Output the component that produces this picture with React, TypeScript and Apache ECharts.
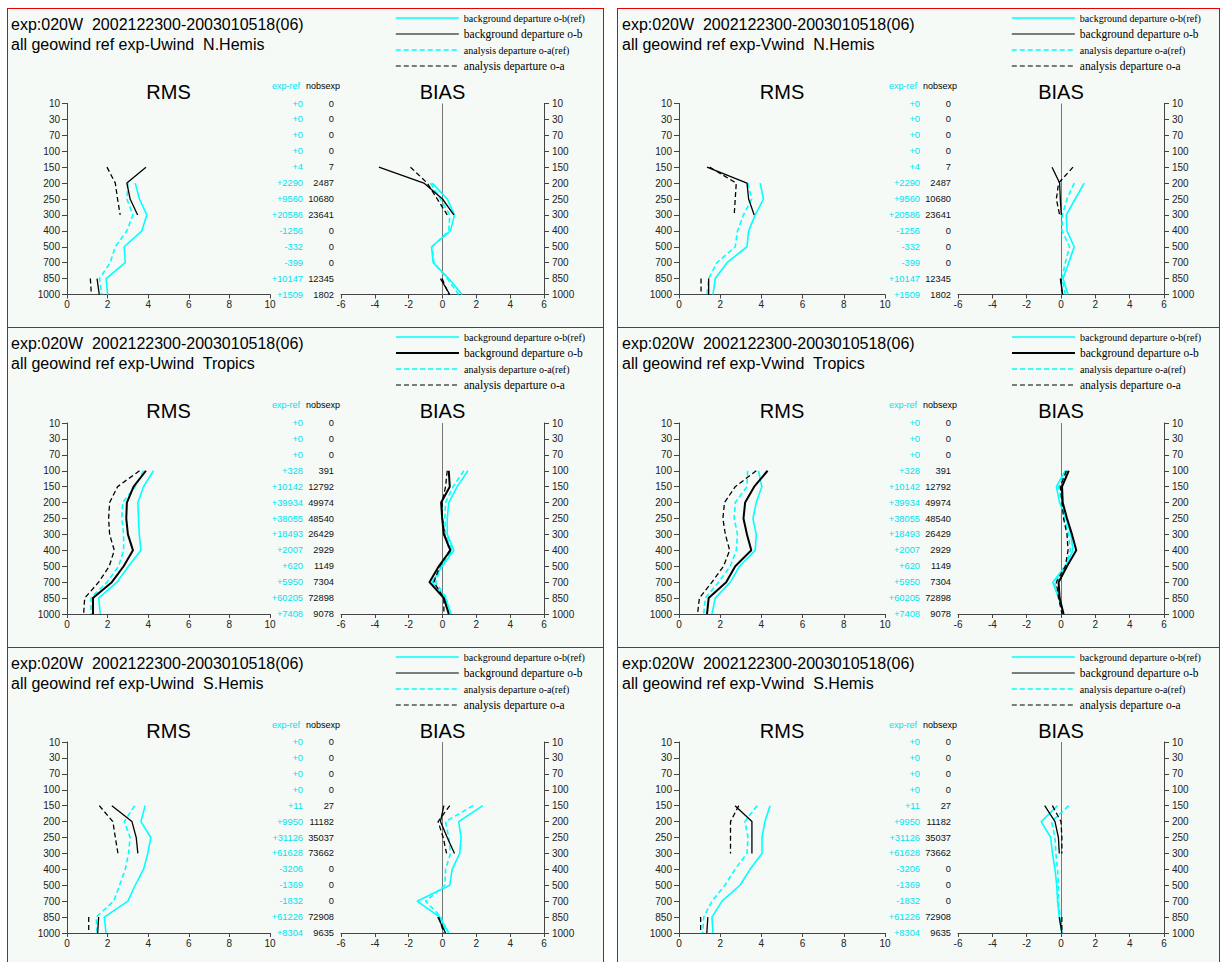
import React, { useEffect, useRef } from 'react';
import * as echarts from 'echarts';

const n = null;
const levels = ['10', '30', '70', '100', '150', '200', '250', '300', '400', '500', '700', '850', '1000'];
const seriesNames = [
  'background departure o-b(ref)',
  'background departure o-b',
  'analysis departure o-a(ref)',
  'analysis departure o-a',
];

// exp-ref / nobsexp columns
const nhExpRef = ['+0', '+0', '+0', '+0', '+4', '+2290', '+9560', '+20586', '-1256', '-332', '-399', '+10147', '+1509'];
const nhNobs = ['0', '0', '0', '0', '7', '2487', '10680', '23641', '0', '0', '0', '12345', '1802'];
const trExpRef = ['+0', '+0', '+0', '+328', '+10142', '+39934', '+38055', '+18493', '+2007', '+620', '+5950', '+60205', '+7408'];
const trNobs = ['0', '0', '0', '391', '12792', '49974', '48540', '26429', '2929', '1149', '7304', '72898', '9078'];
const shExpRef = ['+0', '+0', '+0', '+0', '+11', '+9950', '+31126', '+61628', '-3206', '-1369', '-1832', '+61226', '+8304'];
const shNobs = ['0', '0', '0', '0', '27', '11182', '35037', '73662', '0', '0', '0', '72908', '9635'];

// U wind N.Hemis
const uNH_rms_obRef = [n, n, n, n, n, 3.36, 3.57, 3.93, 3.69, 2.82, 2.87, 1.93, 2.0];
const uNH_rms_ob = [n, n, n, n, 3.89, 2.95, 3.11, 3.48, n, n, n, 1.48, 1.59];
const uNH_rms_oaRef = [n, n, n, n, n, 3.0, 2.95, 3.25, 2.95, 2.38, 2.13, 1.6, 1.72];
const uNH_rms_oa = [n, n, n, n, 1.97, 2.38, 2.49, 2.62, n, n, n, 1.15, 1.2];
const uNH_bias_obRef = [n, n, n, n, n, -0.61, 0.28, 0.71, 0.47, -0.65, -0.55, 0.37, 1.16];
const uNH_bias_ob = [n, n, n, n, -3.76, -1.1, 0.0, 0.67, n, n, n, -0.12, 0.43];
const uNH_bias_oaRef = [n, n, n, n, n, -0.71, -0.12, 0.43, 0.37, -0.61, -0.51, 0.28, 0.96];
const uNH_bias_oa = [n, n, n, n, -1.89, -0.9, -0.31, 0.28, n, n, n, -0.02, 0.37];

// V wind N.Hemis
const vNH_rms_obRef = [n, n, n, n, n, 3.94, 4.1, 3.7, 3.38, 3.3, 2.33, 1.76, 1.65];
const vNH_rms_ob = [n, n, n, n, 1.36, 3.3, 3.38, 3.65, n, n, n, 1.44, 1.44];
const vNH_rms_oaRef = [n, n, n, n, n, 3.34, 3.53, 3.13, 2.84, 2.73, 1.84, 1.44, 1.36];
const vNH_rms_oa = [n, n, n, n, 1.49, 2.78, 2.73, 2.68, n, n, n, 1.07, 1.07];
const vNH_bias_obRef = [n, n, n, n, n, 1.35, 0.83, 0.31, 0.35, 0.77, 0.45, 0.12, 0.41];
const vNH_bias_ob = [n, n, n, n, -0.52, -0.08, -0.04, 0.02, n, n, n, -0.04, 0.1];
const vNH_bias_oaRef = [n, n, n, n, n, 0.77, 0.35, 0.08, 0.06, 0.5, 0.25, 0.06, 0.25];
const vNH_bias_oa = [n, n, n, n, 0.7, -0.14, -0.27, -0.08, n, n, n, 0.0, 0.06];

// U wind Tropics
const uTR_rms_obRef = [n, n, n, 4.26, 3.77, 3.49, 3.52, 3.56, 3.64, 3.03, 2.46, 1.56, 1.64];
const uTR_rms_ob = [n, n, n, 3.89, 3.28, 2.95, 2.92, 3.0, 3.25, 2.79, 2.21, 1.28, 1.28];
const uTR_rms_oaRef = [n, n, n, 3.77, 3.36, 2.74, 2.7, 2.79, 2.79, 2.54, 1.97, 1.18, 1.18];
const uTR_rms_oa = [n, n, n, 3.57, 2.49, 2.1, 2.05, 2.1, 2.33, 2.08, 1.56, 0.87, 0.82];
const uTR_bias_obRef = [n, n, n, 1.5, 0.87, 0.37, 0.28, 0.28, 0.67, -0.02, -0.61, 0.18, 0.51];
const uTR_bias_ob = [n, n, n, 0.37, 0.43, -0.08, -0.02, 0.08, 0.47, -0.22, -0.77, 0.08, 0.37];
const uTR_bias_oaRef = [n, n, n, 1.26, 0.63, 0.18, 0.14, 0.18, 0.57, -0.08, -0.41, 0.24, 0.37];
const uTR_bias_oa = [n, n, n, 0.28, 0.18, -0.02, 0.0, 0.12, 0.43, -0.16, -0.51, 0.08, 0.08];

// V wind Tropics
const vTR_rms_obRef = [n, n, n, 3.86, 4.02, 3.75, 3.59, 3.75, 3.7, 2.94, 2.49, 1.76, 1.6];
const vTR_rms_ob = [n, n, n, 4.3, 3.65, 3.21, 3.13, 3.3, 3.51, 2.73, 2.29, 1.44, 1.36];
const vTR_rms_oaRef = [n, n, n, 3.33, 3.3, 2.73, 2.68, 2.84, 2.78, 2.49, 1.92, 1.28, 1.2];
const vTR_rms_oa = [n, n, n, 3.75, 2.73, 2.21, 2.13, 2.25, 2.46, 2.16, 1.6, 0.99, 0.9];
const vTR_bias_obRef = [n, n, n, 0.25, -0.27, -0.08, 0.31, 0.58, 0.7, 0.25, -0.48, -0.14, 0.15];
const vTR_bias_ob = [n, n, n, 0.45, 0.06, 0.1, 0.35, 0.64, 0.89, 0.35, -0.14, -0.08, 0.15];
const vTR_bias_oaRef = [n, n, n, 0.35, -0.14, 0.06, 0.19, 0.45, 0.54, 0.31, -0.39, -0.08, 0.12];
const vTR_bias_oa = [n, n, n, 0.31, -0.04, 0.06, 0.15, 0.35, 0.41, 0.25, -0.27, -0.14, 0.06];

// U wind S.Hemis
const uSH_rms_obRef = [n, n, n, n, 3.85, 3.64, 4.13, 3.98, 3.77, 3.36, 3.0, 1.84, 1.92];
const uSH_rms_ob = [n, n, n, n, 2.21, 3.2, 3.41, 3.49, n, n, n, 1.56, 1.51];
const uSH_rms_oaRef = [n, n, n, n, 3.33, 2.82, 3.11, 3.03, 2.87, 2.59, 2.3, 1.44, 1.48];
const uSH_rms_oa = [n, n, n, n, 1.59, 2.26, 2.38, 2.51, n, n, n, 1.07, 1.07];
const uSH_bias_obRef = [n, n, n, n, 2.38, 0.96, 1.1, 1.02, 0.57, 0.43, -1.5, -0.16, 0.37];
const uSH_bias_ob = [n, n, n, n, 0.08, -0.12, 0.28, 0.71, n, n, n, -0.28, 0.18];
const uSH_bias_oaRef = [n, n, n, n, 1.81, 0.18, 0.37, 0.47, 0.18, 0.14, -1.0, -0.08, 0.18];
const uSH_bias_oa = [n, n, n, n, 0.43, -0.26, 0.04, 0.24, n, n, n, -0.22, 0.08];

// V wind S.Hemis
const vSH_rms_obRef = [n, n, n, n, 4.42, 4.17, 4.03, 4.03, 3.45, 2.96, 2.09, 1.6, 1.65];
const vSH_rms_ob = [n, n, n, n, 2.72, 3.54, 3.54, 3.54, n, n, n, 1.4, 1.35];
const vSH_rms_oaRef = [n, n, n, n, 3.79, 3.2, 3.35, 3.3, 2.72, 2.23, 1.6, 1.2, 1.15];
const vSH_rms_oa = [n, n, n, n, 2.9, 2.5, 2.5, 2.5, n, n, n, 1.05, 1.05];
const vSH_bias_obRef = [n, n, n, n, -0.2, -1.15, -0.6, -0.5, -0.35, -0.25, -0.2, -0.1, 0.05];
const vSH_bias_ob = [n, n, n, n, -0.95, -0.35, -0.15, -0.1, n, n, n, -0.1, 0.05];
const vSH_bias_oaRef = [n, n, n, n, 0.45, -0.55, -0.35, -0.3, -0.2, -0.15, -0.15, -0.05, 0.05];
const vSH_bias_oa = [n, n, n, n, -0.5, 0.0, 0.05, 0.05, n, n, n, 0.05, 0.05];

const PANELS = [
  { col: 0, row: 0, wind: 'Uwind', region: 'N.Hemis', rms: [uNH_rms_obRef, uNH_rms_ob, uNH_rms_oaRef, uNH_rms_oa], bias: [uNH_bias_obRef, uNH_bias_ob, uNH_bias_oaRef, uNH_bias_oa], expRef: nhExpRef, nobs: nhNobs, thick: false },
  { col: 1, row: 0, wind: 'Vwind', region: 'N.Hemis', rms: [vNH_rms_obRef, vNH_rms_ob, vNH_rms_oaRef, vNH_rms_oa], bias: [vNH_bias_obRef, vNH_bias_ob, vNH_bias_oaRef, vNH_bias_oa], expRef: nhExpRef, nobs: nhNobs, thick: false },
  { col: 0, row: 1, wind: 'Uwind', region: 'Tropics', rms: [uTR_rms_obRef, uTR_rms_ob, uTR_rms_oaRef, uTR_rms_oa], bias: [uTR_bias_obRef, uTR_bias_ob, uTR_bias_oaRef, uTR_bias_oa], expRef: trExpRef, nobs: trNobs, thick: true },
  { col: 1, row: 1, wind: 'Vwind', region: 'Tropics', rms: [vTR_rms_obRef, vTR_rms_ob, vTR_rms_oaRef, vTR_rms_oa], bias: [vTR_bias_obRef, vTR_bias_ob, vTR_bias_oaRef, vTR_bias_oa], expRef: trExpRef, nobs: trNobs, thick: true },
  { col: 0, row: 2, wind: 'Uwind', region: 'S.Hemis', rms: [uSH_rms_obRef, uSH_rms_ob, uSH_rms_oaRef, uSH_rms_oa], bias: [uSH_bias_obRef, uSH_bias_ob, uSH_bias_oaRef, uSH_bias_oa], expRef: shExpRef, nobs: shNobs, thick: false },
  { col: 1, row: 2, wind: 'Vwind', region: 'S.Hemis', rms: [vSH_rms_obRef, vSH_rms_ob, vSH_rms_oaRef, vSH_rms_oa], bias: [vSH_bias_obRef, vSH_bias_ob, vSH_bias_oaRef, vSH_bias_oa], expRef: shExpRef, nobs: shNobs, thick: false },
];

const COLS = [
  { bx: 7, bw: 597, rmsL: 67, rmsR: 270, biasL: 341, biasR: 544, titleX: 11, legX: 395 },
  { bx: 617, bw: 603, rmsL: 679, rmsR: 885, biasL: 958, biasR: 1164, titleX: 622, legX: 1011 },
];
const ROWS = [
  { by: 8, bh: 320, plotTop: 103.5 },
  { by: 327, bh: 321, plotTop: 423 },
  { by: 647, bh: 322, plotTop: 742 },
];
const PLOT_H = 191;

const CYAN = '#00ffff';
const CYAN_TEXT = '#00e2ee';
const AXIS = '#444';
const FONT = '"Liberation Sans", Arial, sans-serif';
const SERIF = '"Liberation Serif", "Times New Roman", serif';

function buildOption() {
  const grid: any[] = [];
  const xAxis: any[] = [];
  const yAxis: any[] = [];
  const series: any[] = [];
  const legend: any[] = [];
  const graphic: any[] = [];

  const baseCat = (extra: any) => ({
    type: 'category',
    data: levels,
    inverse: true,
    boundaryGap: false,
    splitLine: { show: false },
    ...extra,
  });

  PANELS.forEach((p, pi) => {
    const c = COLS[p.col];
    const r = ROWS[p.row];
    const gR = 2 * pi;
    const gB = 2 * pi + 1;
    grid.push({ left: c.rmsL, top: r.plotTop, width: c.rmsR - c.rmsL, height: PLOT_H, outerBoundsMode: 'none', containLabel: false });
    grid.push({ left: c.biasL, top: r.plotTop, width: c.biasR - c.biasL, height: PLOT_H, outerBoundsMode: 'none', containLabel: false });

    const valueAxis = (gi: number, min: number, max: number) => ({
      type: 'value',
      gridIndex: gi,
      min,
      max,
      interval: 2,
      splitLine: { show: false },
      axisLine: { show: true, onZero: false, lineStyle: { color: AXIS, width: 1 } },
      axisTick: { show: true, length: 4, lineStyle: { color: AXIS } },
      axisLabel: { fontSize: 10, color: '#222', margin: 5, fontFamily: FONT },
    });
    xAxis.push(valueAxis(gR, 0, 10));
    xAxis.push(valueAxis(gB, -6, 6));

    const yBase = 4 * pi;
    // RMS levels axis (left)
    yAxis.push(baseCat({
      gridIndex: gR,
      position: 'left',
      axisLine: { show: true, onZero: false, lineStyle: { color: AXIS, width: 1 } },
      axisTick: { show: true, length: 5, interval: 0, lineStyle: { color: AXIS } },
      axisLabel: { interval: 0, fontSize: 10, color: '#222', margin: 7, fontFamily: FONT },
    }));
    // BIAS levels axis (right)
    yAxis.push(baseCat({
      gridIndex: gB,
      position: 'right',
      axisLine: { show: true, onZero: false, lineStyle: { color: AXIS, width: 1 } },
      axisTick: { show: true, length: 5, interval: 0, lineStyle: { color: AXIS } },
      axisLabel: { interval: 0, fontSize: 10, color: '#222', margin: 8, fontFamily: FONT },
    }));
    // nobsexp column
    const nobs = p.nobs;
    yAxis.push(baseCat({
      gridIndex: gB,
      position: 'left',
      offset: 0,
      axisLine: { show: false, onZero: false },
      axisTick: { show: false },
      axisLabel: { interval: 0, fontSize: 9.3, color: '#111', margin: 7, fontFamily: FONT, formatter: (_v: string, i: number) => nobs[i] },
    }));
    // exp-ref column
    const er = p.expRef;
    yAxis.push(baseCat({
      gridIndex: gB,
      position: 'left',
      offset: 31,
      axisLine: { show: false, onZero: false },
      axisTick: { show: false },
      axisLabel: { interval: 0, fontSize: 9.3, color: CYAN_TEXT, margin: 7, fontFamily: FONT, formatter: (_v: string, i: number) => er[i] },
    }));

    const styles = [
      { color: CYAN, width: 1.6, type: 'solid' },
      { color: '#000', width: p.thick ? 2 : 1.3, type: 'solid' },
      { color: CYAN, width: 1.6, type: [5, 3] },
      { color: '#000', width: 1.3, type: [5, 3] },
    ];
    const order = [0, 2, 1, 3];
    order.forEach((k) => {
      series.push({
        type: 'line',
        name: seriesNames[k],
        xAxisIndex: gR,
        yAxisIndex: yBase,
        data: p.rms[k].map((v) => (v == null ? '-' : v)),
        symbol: 'none',
        connectNulls: false,
        silent: true,
        z: k % 2 === 0 ? 2 : 3,
        lineStyle: styles[k],
        itemStyle: { color: styles[k].color },
      });
    });
    order.forEach((k, j) => {
      const s: any = {
        type: 'line',
        name: seriesNames[k],
        xAxisIndex: gB,
        yAxisIndex: yBase + 1,
        data: p.bias[k].map((v) => (v == null ? '-' : v)),
        symbol: 'none',
        connectNulls: false,
        silent: true,
        z: k % 2 === 0 ? 2 : 3,
        lineStyle: styles[k],
        itemStyle: { color: styles[k].color },
      };
      if (j === 0) {
        s.markLine = {
          silent: true,
          symbol: 'none',
          label: { show: false },
          lineStyle: { color: '#777', type: 'solid', width: 1 },
          data: [{ xAxis: 0 }],
          z: 1,
        };
      }
      series.push(s);
    });

    legend.push({
      orient: 'vertical',
      left: c.legX - 5,
      top: r.by,
      itemWidth: 63,
      itemHeight: 10,
      itemGap: 5,
      selectedMode: false,
      itemStyle: { opacity: 0 },
      textStyle: { fontFamily: SERIF, color: '#000', lineHeight: 10 },
      data: [
        { name: seriesNames[0], textStyle: { fontSize: 10 }, lineStyle: { width: 1.6, color: CYAN, type: 'solid' } },
        { name: seriesNames[1], textStyle: { fontSize: 11.5 }, lineStyle: { width: p.thick ? 2 : 1.2, color: '#000', type: 'solid' } },
        { name: seriesNames[2], textStyle: { fontSize: 10 }, lineStyle: { width: 1.6, color: CYAN, type: [5, 3] } },
        { name: seriesNames[3], textStyle: { fontSize: 11.5 }, lineStyle: { width: 1.2, color: '#000', type: [5, 3] } },
      ],
    });

    graphic.push(
      { type: 'text', x: c.titleX, y: r.by + 8, style: { text: 'exp:020W  2002122300-2003010518(06)', fontSize: 16, fontFamily: FONT, fill: '#000', verticalAlign: 'top' } },
      { type: 'text', x: c.titleX, y: r.by + 28, style: { text: `all geowind ref exp-${p.wind}  ${p.region}`, fontSize: 16, fontFamily: FONT, fill: '#000', verticalAlign: 'top' } },
      { type: 'text', x: (c.rmsL + c.rmsR) / 2, y: r.by + 84, style: { text: 'RMS', fontSize: 20, fontFamily: FONT, fill: '#000', align: 'center', verticalAlign: 'middle' } },
      { type: 'text', x: (c.biasL + c.biasR) / 2, y: r.by + 84, style: { text: 'BIAS', fontSize: 20, fontFamily: FONT, fill: '#000', align: 'center', verticalAlign: 'middle' } },
      { type: 'text', x: c.biasL - 41, y: r.by + 78, style: { text: 'exp-ref', fontSize: 9, fontFamily: FONT, fill: CYAN_TEXT, align: 'right', verticalAlign: 'middle' } },
      { type: 'text', x: c.biasL - 1, y: r.by + 78, style: { text: 'nobsexp', fontSize: 9, fontFamily: FONT, fill: '#000', align: 'right', verticalAlign: 'middle' } },
    );
  });

  return {
    animation: false,
    backgroundColor: 'transparent',
    textStyle: { fontFamily: FONT },
    grid,
    xAxis,
    yAxis,
    series,
    legend,
    graphic,
  };
}

export default function App() {
  const ref = useRef<HTMLDivElement>(null);
  useEffect(() => {
    if (!ref.current) return;
    const chart = echarts.init(ref.current, null, { renderer: 'svg', width: 1222, height: 962 });
    chart.setOption(buildOption() as any);
    return () => chart.dispose();
  }, []);

  const boxes: any[] = [];
  COLS.forEach((c) => ROWS.forEach((r) => boxes.push({ x: c.bx, y: r.by, w: c.bw, h: r.bh })));

  return (
    <div style={{ position: 'absolute', left: 0, top: 0, width: 1222, height: 962, background: '#fff', overflow: 'hidden' }}>
      {boxes.map((b, i) => (
        <div
          key={i}
          style={{ position: 'absolute', left: b.x, top: b.y, width: b.w, height: b.h, background: '#f5faf7', border: '1px solid #e60000', boxSizing: 'border-box' }}
        />
      ))}
      <div ref={ref} style={{ position: 'absolute', left: 0, top: 0, width: 1222, height: 962 }} />
    </div>
  );
}
